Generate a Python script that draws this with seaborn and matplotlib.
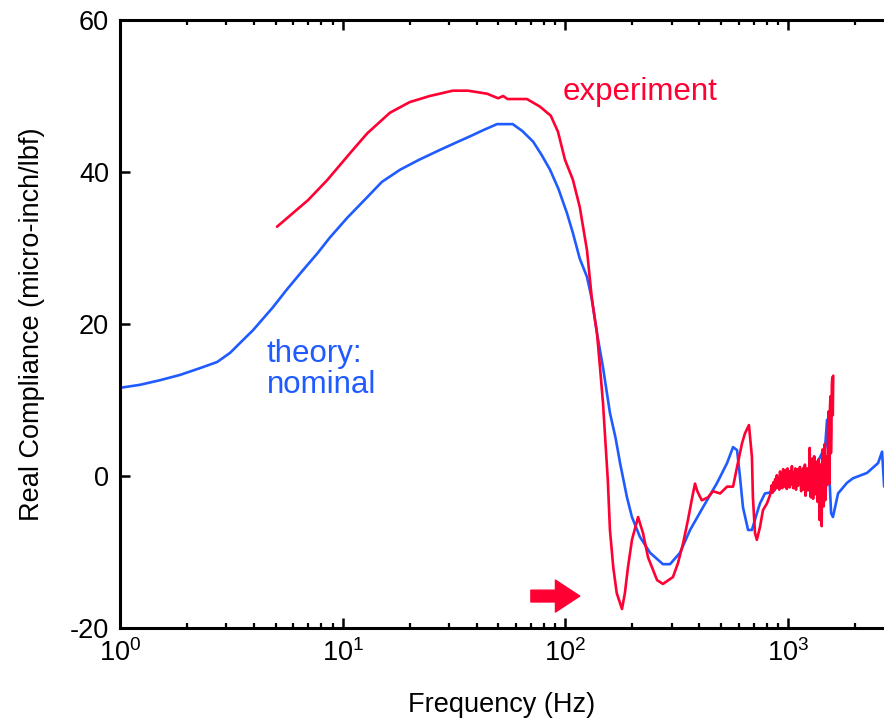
import numpy as np
import pandas as pd
import matplotlib
matplotlib.use("Agg")
import matplotlib.pyplot as plt
import seaborn as sns

# ---- data ----
theory_freq = [1, 1.23, 1.51, 1.86, 2.29, 2.73, 3.12, 3.57, 3.96, 4.86, 5.6, 6.64, 7.7, 8.77,
               10.5, 12.9, 15, 18.1, 22, 27.3, 33, 38, 42.7, 49.3, 55, 58, 64, 71.6, 78, 85.3,
               93, 101.6, 108, 116, 125, 131.6, 138.6, 147.5, 158.5, 168, 176, 189, 199, 216,
               240, 274, 295, 327, 363, 415, 480, 532, 566, 590, 608, 627, 661, 688, 724, 748,
               787, 855, 920, 1052, 1216, 1349, 1466, 1496, 1510, 1560, 1590, 1676, 1838, 1955,
               2260, 2404, 2535, 2642, 2700]
theory_vals = [11.6, 12.0, 12.6, 13.3, 14.2, 15.0, 16.2, 17.9, 19.2, 22.2, 24.5, 27.1, 29.3, 31.4,
               34.0, 36.7, 38.7, 40.3, 41.6, 42.9, 44.0, 44.8, 45.5, 46.3, 46.3, 46.3, 45.4, 44.0, 42.3, 40.3,
               37.8, 34.6, 32.0, 28.6, 26.2, 23.2, 18.8, 14.3, 8.3, 5.0, 1.7, -2.8, -5.4, -8.0,
               -10.1, -11.6, -11.6, -10.1, -7.1, -4.1, -0.9, 1.7, 3.8, 3.4, -0.1, -4.1, -7.1, -7.1, -4.9, -3.6,
               -2.3, -2.1, -0.9, -0.1, 0.8, 1.7, 3.8, 7.4, 3.8, -4.9, -5.4, -2.3, -0.9, -0.3,
               0.4, 1.1, 1.7, 3.2, -1.4]

exp_freq = [5.07, 6.99, 8.5, 11.1, 12.9, 16.3, 20, 24.6, 31.2, 36.5, 44.5, 49.9, 52.5, 55, 67.2,
            76.9, 86, 92.6, 99.6, 108, 116, 125, 131.6, 138.6, 143, 147.5, 155, 158.5, 164, 170, 179.5,
            185, 191, 199, 212, 223, 235, 258, 274, 304, 320, 338, 355, 374, 382, 390, 400, 410, 437,
            460, 495, 532, 566, 590, 621, 640, 667, 688, 695, 710, 724, 748, 771, 804, 830,
            845, 852, 860, 867, 875, 882, 890, 897, 905, 912, 920, 927, 935, 942, 950, 957,
            965, 972, 980, 987, 995, 1002, 1010, 1017, 1025, 1032, 1040, 1047, 1055, 1062,
            1070, 1077, 1085, 1092, 1100, 1107, 1115, 1122, 1130, 1137, 1145, 1152, 1160,
            1167, 1175, 1182, 1190, 1197, 1205, 1212, 1220, 1227, 1235, 1242, 1250, 1257,
            1265, 1272, 1280, 1287, 1295, 1302, 1310, 1317, 1325, 1332, 1340, 1347, 1355,
            1362, 1370, 1377, 1385, 1392, 1400, 1407, 1415, 1422, 1430, 1437, 1445, 1452,
            1460, 1467, 1475, 1482, 1490, 1497, 1505, 1512, 1520, 1527, 1535, 1542, 1550,
            1557, 1565, 1572, 1580, 1587, 1595]
exp_vals = [32.8, 36.3, 38.9, 42.9, 45.1, 47.8, 49.2, 50.0, 50.7, 50.7, 50.3, 49.7, 50.0, 49.6, 49.6,
            48.6, 47.4, 45.3, 41.6, 39.0, 35.4, 29.7, 23.2, 18.8, 14.3, 9.6, -0.5, -7.1, -12.0, -15.4, -17.5,
            -15.4, -12.0, -8.4, -5.4, -7.5, -10.7, -13.7, -14.2, -13.3, -11.5, -8.8, -5.8, -2.3, -1.0, -1.9, -2.6, -3.2, -2.8,
            -2.0, -2.3, -1.4, -1.4, 1.2, 4.3, 5.6, 6.7, 2.5, -2.8, -7.5, -8.4, -6.7, -4.5, -3.6, -2.5,
            -1.2, -2.2, -0.8, -1.9, -0.4, -1.6, 0.1, -1.5, -0.2, -1.8, 0.6, -1.0, -0.2, -1.6, 0.9, -0.6,
            -1.4, 0.8, -0.3, -1.7, 1.0, -0.8, 0.4, -1.5, 0.7, -1.1, 1.3, -0.4, -1.6, 0.5,
            -0.9, 1.0, -1.8, 0.2, 0.9, -1.3, 0.4, -1.0, 1.2, -0.5, -2.0, 0.8, -0.6,
            -1.8, 1.1, -0.3, 1.5, -2.6, 0.9, -1.1, 1.0, -1.9, 0.4, -1.2, 3.7, -0.5,
            -2.8, 1.6, -0.6, 2.3, -3.0, 0.7, 2.6, -1.2, -2.4, 1.9, -0.8, 1.4, -3.4,
            0.3, 2.2, -2.0, -5.8, 1.5, 0.6, -4.0, -6.6, 2.0, 3.5, -1.5, -4.0, 0.8,
            4.2, -3.2, -2.5, 2.6, 2.0, -1.2, 0.0, 6.5, 8.5, -0.5, -1.0, 9.0, 10.5,
            3.0, 6.0, 12.0, 13.0, 8.0, 13.2]

ytick_vals = [-20, 0, 20, 40, 60]
xtick_vals = [1, 10, 100, 1000]
xtick_labels = [r"$10^{0}$", r"$10^{1}$", r"$10^{2}$", r"$10^{3}$"]

RED = "#ff0033"
BLUE = "#1f5bff"

sns.set_style("ticks")
plt.rcParams["font.family"] = ["Liberation Sans", "DejaVu Sans"]
plt.rcParams["mathtext.fontset"] = "custom"
plt.rcParams["mathtext.rm"] = "Liberation Sans"
plt.rcParams["mathtext.it"] = "Liberation Sans:italic"
plt.rcParams["text.color"] = "black"
plt.rcParams["axes.labelcolor"] = "black"
plt.rcParams["xtick.color"] = "black"
plt.rcParams["ytick.color"] = "black"

fig = plt.figure(figsize=(8.84, 7.24), dpi=100)
ax = fig.add_axes([120 / 884, 96 / 724, 764 / 884, 608 / 724])

df_t = pd.DataFrame({"f": theory_freq, "v": theory_vals})
df_e = pd.DataFrame({"f": exp_freq, "v": exp_vals})
sns.lineplot(data=df_t, x="f", y="v", ax=ax, color=BLUE, lw=1.9, estimator=None, sort=False)
sns.lineplot(data=df_e, x="f", y="v", ax=ax, color=RED, lw=1.9, estimator=None, sort=False)

ax.set_xscale("log")
ax.set_xlim(1, 10 ** (764 / 222.7))
ax.set_ylim(-20, 60)
ax.set_xticks(xtick_vals)
ax.set_xticklabels(xtick_labels)
ax.set_yticks(ytick_vals)
ax.set_yticklabels([str(v) for v in ytick_vals])
ax.xaxis.set_minor_locator(matplotlib.ticker.LogLocator(base=10, subs=np.arange(2, 10)))
ax.xaxis.set_minor_formatter(matplotlib.ticker.NullFormatter())

ax.tick_params(axis="both", which="major", direction="in", length=7, width=1.8,
               labelsize=19.5, top=True, right=False, pad=8, colors="black")
ax.tick_params(axis="x", which="minor", direction="in", length=3.5, width=1.6, top=True,
               colors="black")
for side in ["left", "bottom", "top"]:
    ax.spines[side].set_linewidth(2.2)
    ax.spines[side].set_color("black")
ax.spines["right"].set_visible(False)

ax.set_xlabel("Frequency (Hz)", fontsize=19.5, labelpad=18, color="black")
ax.set_ylabel("Real Compliance (micro-inch/lbf)", fontsize=19.5, labelpad=18, color="black")

ax.text(97.5, 50.5, "experiment", color=RED, fontsize=22.5, ha="left", va="center")
ax.text(4.57, 14.0, "theory:\nnominal", color=BLUE, fontsize=22.5, ha="left", va="center",
        linespacing=1.05)

ax.annotate("", xy=(116, -15.8), xytext=(70, -15.8),
            arrowprops=dict(arrowstyle="simple,head_length=1.75,head_width=2.3,tail_width=0.85",
                            color=RED, shrinkA=0, shrinkB=0, mutation_scale=10))

fig.savefig("out.png", dpi=100)
